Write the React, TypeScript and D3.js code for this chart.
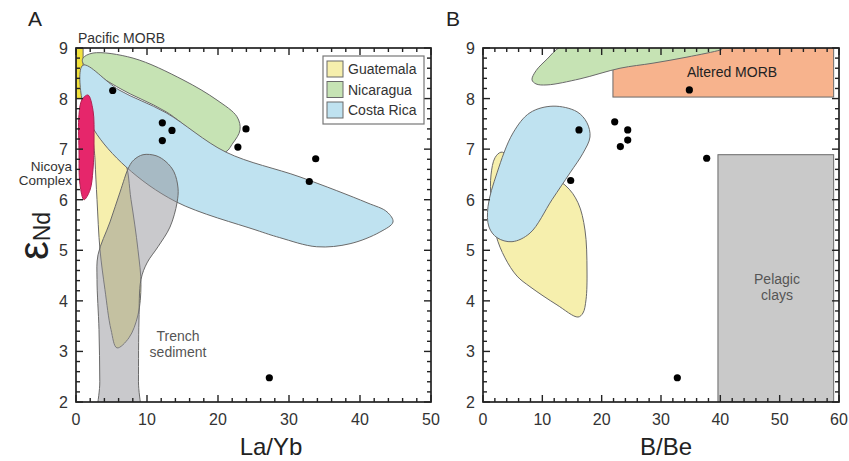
import React from "react";
import * as d3 from "d3";

const FONT = "'Liberation Sans', Arial, Helvetica, sans-serif";

// ---- tick values ----
const xTicksA = [0, 10, 20, 30, 40, 50];
const xTicksB = [0, 10, 20, 30, 40, 50, 60];
const yTicks = [2, 3, 4, 5, 6, 7, 8, 9];

// ---- legend ----
const legendLabels = ["Guatemala", "Nicaragua", "Costa Rica"];
const legendColors = ["#f6efad", "#c6e3b4", "#bfe2f0"];

// ---- samples (La/Yb, B/Be, eNd) ----
const dotsA_x = [5.17, 12.16, 13.52, 12.16, 23.94, 22.8, 33.76, 32.86, 27.23];
const dotsA_y = [8.16, 7.52, 7.37, 7.17, 7.4, 7.04, 6.81, 6.36, 2.48];
const dotsB_x = [34.78, 22.2, 24.39, 24.39, 16.18, 23.15, 37.7, 14.78, 32.75];
const dotsB_y = [8.17, 7.54, 7.38, 7.18, 7.38, 7.05, 6.82, 6.38, 2.48];

// ---- fields, panel A ----
const nicaraguaA: [number, number][] = [
  [0.99, 8.8], [2.39, 8.9], [8.03, 8.8], [15.07, 8.37], [19.86, 7.97], [22.68, 7.64],
  [23.1, 7.38], [22.1, 7.12], [20.85, 6.94], [12.68, 7.74], [6.06, 8.21], [0.99, 8.7],
];
const costaRicaA: [number, number][] = [
  [0.99, 8.66], [6.06, 8.17], [12.68, 7.72], [21.13, 6.94], [31.55, 6.45], [40.99, 5.94],
  [43.8, 5.76], [44.65, 5.56], [42.8, 5.36], [38.6, 5.13], [33.9, 5.07], [28.7, 5.25],
  [25.35, 5.4], [14.08, 5.96], [7.04, 6.65], [2.54, 7.38], [0.85, 7.97],
];
const guatemalaA: [number, number][] = [
  [2.54, 7.38], [4.5, 7.08], [6.76, 6.79], [7.75, 6.0], [8.73, 5.01], [9.15, 4.32],
  [8.73, 3.72], [7.46, 3.27], [5.77, 3.07], [4.93, 3.43], [4.08, 4.22], [3.38, 5.01],
  [2.96, 6.0], [2.68, 6.79],
];
const trenchA: [number, number][] = [
  [7.46, 6.65], [8.17, 6.79], [9.44, 6.89], [11.27, 6.87], [12.68, 6.75], [13.8, 6.55],
  [14.37, 6.23], [14.23, 5.94], [13.24, 5.46], [11.55, 5.07], [10.0, 4.75], [9.15, 4.42],
  [8.87, 3.62], [8.8, 2.4], [8.8, 1.4], [3.35, 1.4], [3.35, 2.4], [3.24, 3.43],
  [2.96, 4.42], [3.1, 4.91], [4.79, 5.56], [6.2, 6.15],
];
const nicoyaA: [number, number][] = [
  [1.69, 8.07], [2.39, 7.77], [2.54, 7.18], [2.39, 6.59], [1.97, 6.19], [1.13, 6.0],
  [0.56, 6.3], [0.42, 6.99], [0.42, 7.68], [0.85, 7.98],
];
const pacificMorbX = [0, 1];
const pacificMorbY = [8, 9];

// ---- fields, panel B ----
const alteredMorbX = [21.9, 59.1];
const alteredMorbY = [8.03, 9];
const pelagicX = [39.6, 59.1];
const pelagicY = [2, 6.89];
const nicaraguaB: [number, number][] = [
  [8.26, 8.37], [8.93, 8.55], [10.79, 8.78], [13.0, 9.02], [18, 9.2], [30, 9.2],
  [40, 9.12], [40.3, 8.98], [39.95, 8.96], [34.38, 8.82], [28.65, 8.7], [23.09, 8.6],
  [16.35, 8.39], [10.79, 8.27], [8.93, 8.29],
];
const guatemalaB: [number, number][] = [
  [13.82, 6.29], [16.01, 5.94], [17.19, 5.4], [17.53, 4.61], [17.36, 4.02], [16.85, 3.76],
  [16.01, 3.68], [12.47, 3.92], [7.92, 4.28], [5.73, 4.49], [3.71, 4.85], [2.19, 5.3],
  [1.35, 6.0], [1.35, 6.49], [2.02, 6.83], [3.03, 6.94], [4.21, 6.89], [7.5, 6.7],
];
const costaRicaB: [number, number][] = [
  [11.8, 7.85], [15.84, 7.74], [17.53, 7.52], [18.03, 7.24], [16.85, 6.92], [14.66, 6.53],
  [11.63, 6.0], [7.92, 5.34], [4.89, 5.17], [2.36, 5.25], [1.01, 5.46], [0.84, 5.86],
  [2.36, 6.53], [5.06, 7.32], [7.92, 7.72],
];

const STROKE = "#6a6a6a";
const AXIS = "#222";
const TXT = "#333";

const xA = d3.scaleLinear().domain([0, 50]).range([76, 431]);
const xB = d3.scaleLinear().domain([0, 60]).range([483, 839]);
const yS = d3.scaleLinear().domain([2, 9]).range([402, 48]);

function shape(x: any, y: any, pts: [number, number][]) {
  return d3
    .line<[number, number]>()
    .curve(d3.curveCatmullRomClosed.alpha(0.5))
    .x((d) => x(d[0]))
    .y((d) => y(d[1]))(pts) as string;
}

function Frame({ x, y, xTicks, xMinor }: any) {
  const [x0, x1] = x.range();
  const [y0, y1] = y.range(); // y0 bottom, y1 top
  const minorX = d3.range(x.domain()[0], x.domain()[1] + 0.001, xMinor).filter((v: number) => Math.abs(v % 10) > 0.01);
  const minorY = d3.range(2, 9.001, 0.2).filter((v: number) => Math.abs(v - Math.round(v)) > 0.01);
  const M = 7, m = 4;
  const lines: any[] = [];
  xTicks.forEach((t: number, i: number) => {
    lines.push(<line key={"xb" + i} x1={x(t)} x2={x(t)} y1={y0} y2={y0 - M} />);
    lines.push(<line key={"xt" + i} x1={x(t)} x2={x(t)} y1={y1} y2={y1 + M} />);
  });
  minorX.forEach((t: number, i: number) => {
    lines.push(<line key={"mxb" + i} x1={x(t)} x2={x(t)} y1={y0} y2={y0 - m} />);
    lines.push(<line key={"mxt" + i} x1={x(t)} x2={x(t)} y1={y1} y2={y1 + m} />);
  });
  yTicks.forEach((t: number, i: number) => {
    lines.push(<line key={"yl" + i} x1={x0} x2={x0 + M} y1={y(t)} y2={y(t)} />);
    lines.push(<line key={"yr" + i} x1={x1} x2={x1 - M} y1={y(t)} y2={y(t)} />);
  });
  minorY.forEach((t: number, i: number) => {
    lines.push(<line key={"myl" + i} x1={x0} x2={x0 + m} y1={y(t)} y2={y(t)} />);
    lines.push(<line key={"myr" + i} x1={x1} x2={x1 - m} y1={y(t)} y2={y(t)} />);
  });
  return (
    <g>
      <g stroke={AXIS} strokeWidth={1.4}>{lines}</g>
      <rect x={x0} y={y1} width={x1 - x0} height={y0 - y1} fill="none" stroke={AXIS} strokeWidth={1.7} />
      <g fontFamily={FONT} fontSize={16} fill={TXT}>
        {xTicks.map((t: number) => (
          <text key={"lx" + t} x={x(t)} y={y0 + 23} textAnchor="middle">{t}</text>
        ))}
        {yTicks.map((t: number) => (
          <text key={"ly" + t} x={x0 - 8} y={y(t) + 6} textAnchor="end">{t}</text>
        ))}
      </g>
    </g>
  );
}

export default function App() {
  return (
    <div style={{ position: "fixed", left: 0, top: 0 }}>
      <svg width={849} height={461} style={{ display: "block", background: "#fff" }}>
        <defs>
          <clipPath id="clipA">
            <rect x={76} y={48} width={355} height={354} />
          </clipPath>
          <clipPath id="clipB">
            <rect x={483} y={48} width={356} height={354} />
          </clipPath>
        </defs>

        {/* Panel A */}
        <g clipPath="url(#clipA)" stroke={STROKE} strokeWidth={1}>
          <rect x={xA(pacificMorbX[0])} y={yS(pacificMorbY[1])} width={xA(pacificMorbX[1]) - xA(pacificMorbX[0])}
            height={yS(pacificMorbY[0]) - yS(pacificMorbY[1])} fill="#f2e23c" />
          <path d={shape(xA, yS, nicaraguaA)} fill="#c6e3b4" />
          <path d={shape(xA, yS, guatemalaA)} fill="#f6efad" />
          <path d={shape(xA, yS, costaRicaA)} fill="#bfe2f0" />
          <path d={shape(xA, yS, trenchA)} fill="#8e8e94" fillOpacity={0.48} />
          <path d={shape(xA, yS, nicoyaA)} fill="#e6266b" stroke="#b02050" />
        </g>
        <g fill="#000">
          {dotsA_x.map((v, i) => (
            <circle key={"da" + i} cx={xA(v)} cy={yS(dotsA_y[i])} r={3.6} />
          ))}
        </g>
        <Frame x={xA} y={yS} xTicks={xTicksA} xMinor={2} />

        {/* legend */}
        <g fontFamily={FONT} fontSize={14} fill={TXT}>
          <rect x={323} y={56} width={101} height={68} fill="#fff" stroke="#777" strokeWidth={1.2} />
          {legendLabels.map((l, i) => (
            <g key={l}>
              <rect x={327} y={61 + i * 20.5} width={16} height={16} fill={legendColors[i]} stroke={STROKE} strokeWidth={1} />
              <text x={348} y={74 + i * 20.5}>{l}</text>
            </g>
          ))}
        </g>

        <g fontFamily={FONT} fontSize={14} fill={TXT}>
          <text x={78} y={43}>Pacific MORB</text>
          <text x={72} y={171} fontSize={13.5} textAnchor="end">Nicoya</text>
          <text x={72} y={185} fontSize={13.5} textAnchor="end">Complex</text>
          <text x={178} y={341} textAnchor="middle" fill="#555">Trench</text>
          <text x={178} y={357} textAnchor="middle" fill="#555">sediment</text>
        </g>

        {/* Panel B */}
        <g clipPath="url(#clipB)" stroke={STROKE} strokeWidth={1}>
          <rect x={xB(alteredMorbX[0])} y={yS(alteredMorbY[1])} width={xB(alteredMorbX[1]) - xB(alteredMorbX[0])}
            height={yS(alteredMorbY[0]) - yS(alteredMorbY[1])} fill="#f7b38d" />
          <path d={shape(xB, yS, nicaraguaB)} fill="#c6e3b4" />
          <rect x={xB(pelagicX[0])} y={yS(pelagicY[1])} width={xB(pelagicX[1]) - xB(pelagicX[0])}
            height={yS(pelagicY[0]) - yS(pelagicY[1])} fill="#c9c9c9" />
          <path d={shape(xB, yS, guatemalaB)} fill="#f6efad" />
          <path d={shape(xB, yS, costaRicaB)} fill="#bfe2f0" />
        </g>
        <g fill="#000">
          {dotsB_x.map((v, i) => (
            <circle key={"db" + i} cx={xB(v)} cy={yS(dotsB_y[i])} r={3.6} />
          ))}
        </g>
        <Frame x={xB} y={yS} xTicks={xTicksB} xMinor={2} />

        <g fontFamily={FONT} fontSize={14} fill={TXT}>
          <text x={732} y={77} textAnchor="middle" fill="#222">Altered MORB</text>
          <text x={777} y={284} textAnchor="middle" fill="#555">Pelagic</text>
          <text x={777} y={300} textAnchor="middle" fill="#555">clays</text>
        </g>

        {/* titles */}
        <g fontFamily={FONT} fill="#222">
          <text x={28} y={26} fontSize={21}>A</text>
          <text x={446} y={26} fontSize={21}>B</text>
          <text x={271} y={455} fontSize={24} textAnchor="middle">La/Yb</text>
          <text x={666} y={455} fontSize={24} textAnchor="middle">B/Be</text>
          <text transform="translate(48,236) rotate(-90)" textAnchor="middle">
            <tspan fontSize={42}>ε</tspan>
            <tspan fontSize={23} dy={2}>Nd</tspan>
          </text>
        </g>
      </svg>
    </div>
  );
}
